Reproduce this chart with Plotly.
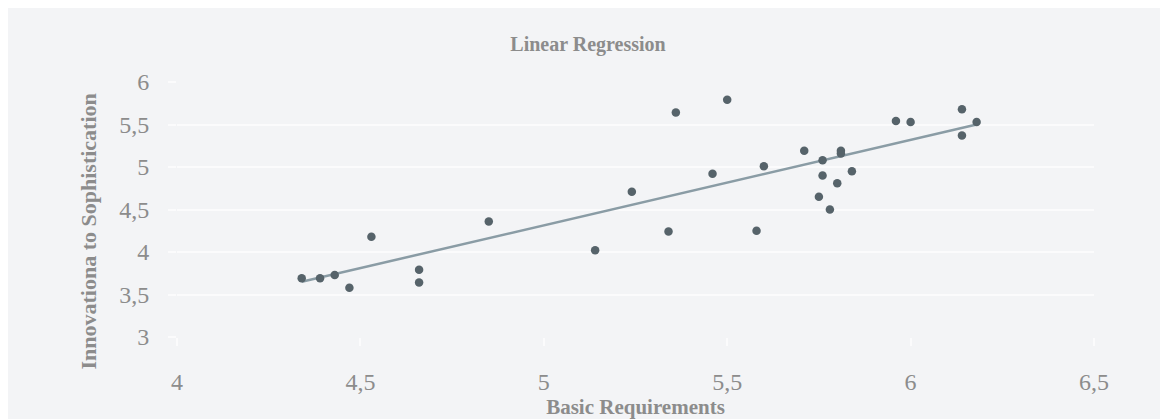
import plotly.graph_objects as go

# Data
basic_requirements = [4.34, 4.39, 4.43, 4.47, 4.53, 4.66, 4.66, 4.85, 5.14, 5.24,
                      5.34, 5.36, 5.46, 5.50, 5.58, 5.60, 5.71, 5.75, 5.76, 5.76,
                      5.78, 5.80, 5.81, 5.81, 5.84, 5.96, 6.00, 6.14, 6.14, 6.18]
innovation = [3.69, 3.69, 3.73, 3.58, 4.18, 3.79, 3.64, 4.36, 4.02, 4.71,
              4.24, 5.64, 4.92, 5.79, 4.25, 5.01, 5.19, 4.65, 5.08, 4.90,
              4.50, 4.81, 5.19, 5.16, 4.95, 5.54, 5.53, 5.68, 5.37, 5.53]

# Regression line endpoints as drawn in the reference
trend_x = [4.34, 6.18]
trend_y = [3.65, 5.50]

x_ticks = [4, 4.5, 5, 5.5, 6, 6.5]
y_ticks = [3, 3.5, 4, 4.5, 5, 5.5, 6]

BG = "#f3f4f6"
GRID = "#fbfbfc"
TXT = "#8c8c8c"
FONT = "Liberation Serif"

fig = go.Figure()
fig.add_trace(go.Scatter(
    x=trend_x, y=trend_y, mode="lines",
    line=dict(color="#8a9ca5", width=2.5),
    hoverinfo="skip", showlegend=False,
))
fig.add_trace(go.Scatter(
    x=basic_requirements, y=innovation, mode="markers",
    marker=dict(color="#56636a", size=8.5),
    showlegend=False,
))

fig.update_layout(
    width=1160, height=411,
    margin=dict(l=169, r=74, t=74, b=82),
    paper_bgcolor=BG, plot_bgcolor=BG,
    separators=",.",
    font=dict(family=FONT, color=TXT),
    title=dict(text="<b>Linear Regression</b>", x=0.5, xanchor="center",
               y=1 - 36 / 411, yanchor="middle",
               font=dict(family=FONT, size=20, color=TXT)),
    xaxis=dict(
        range=[4, 6.5], tickvals=x_ticks, showgrid=False, zeroline=False,
        showline=False, ticks="outside", ticklen=8, tickwidth=2, tickcolor=GRID,
        tickfont=dict(family=FONT, size=24, color=TXT), ticklabelstandoff=15,
        automargin=False,
        title=dict(text="<b>Basic Requirements</b>", standoff=17,
                   font=dict(family=FONT, size=21, color=TXT)),
    ),
    yaxis=dict(
        range=[3, 6], tickvals=y_ticks, showgrid=True, gridcolor=GRID, gridwidth=2,
        zeroline=False, showline=False, ticks="outside", ticklen=8, tickwidth=2,
        tickcolor=GRID, tickfont=dict(family=FONT, size=24, color=TXT),
        ticklabelstandoff=14, automargin=False,
    ),
    annotations=[dict(
        text="<b>Innovationa to Sophistication</b>", textangle=-90,
        xref="paper", yref="paper", x=-0.0967, y=0.415,
        xanchor="center", yanchor="middle", showarrow=False,
        font=dict(family=FONT, size=22, color=TXT),
    )],
)

fig.write_html("out.html")
